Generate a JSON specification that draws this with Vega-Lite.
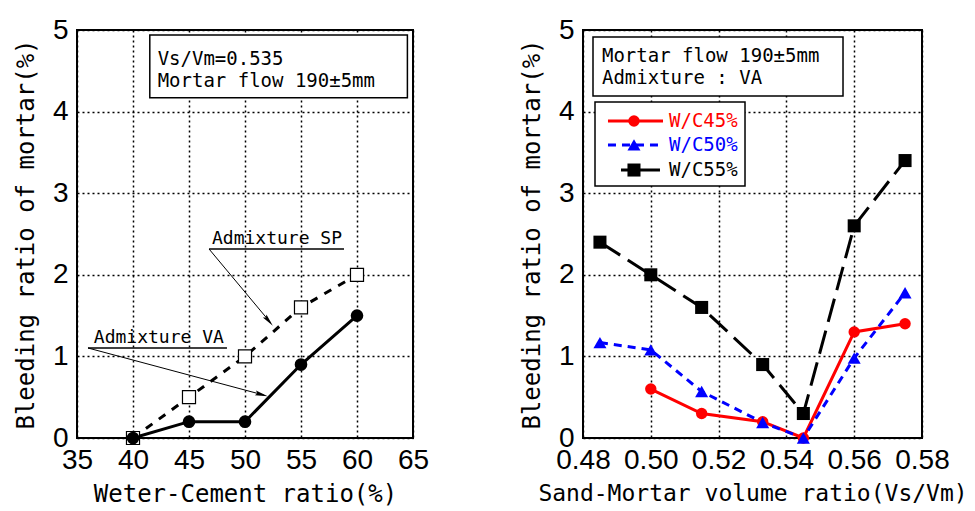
{
  "$schema": "https://vega.github.io/schema/vega-lite/v6.json",
  "background": "white",
  "padding": {"left": 13, "top": 15, "right": 0, "bottom": 0},
  "spacing": 89,
  "config": {
    "view": {"stroke": "black", "strokeWidth": 2},
    "axis": {
      "labelFont": "Liberation Sans", "labelFontSize": 28, "labelColor": "black",
      "titleFont": "DejaVu Sans Mono", "titleFontSize": 24, "titleFontWeight": "normal", "titleColor": "black",
      "ticks": false, "domain": false, "grid": true, "gridColor": "black", "gridDash": [2, 3], "gridWidth": 1.5, "gridOpacity": 1,
      "labelPadding": 9, "titlePadding": 14, "labelOverlap": false, "labelFlush": false, "labelBound": false
    },
    "axisX": {"labelPadding": 8, "titlePadding": 8},
    "axisY": {"format": "d"}
  },
  "datasets": {
    "wc": [
      {"wc": 40, "bleed": 0, "admixture": "SP"},
      {"wc": 45, "bleed": 0.5, "admixture": "SP"},
      {"wc": 50, "bleed": 1.0, "admixture": "SP"},
      {"wc": 55, "bleed": 1.6, "admixture": "SP"},
      {"wc": 60, "bleed": 2.0, "admixture": "SP"},
      {"wc": 40, "bleed": 0, "admixture": "VA"},
      {"wc": 45, "bleed": 0.2, "admixture": "VA"},
      {"wc": 50, "bleed": 0.2, "admixture": "VA"},
      {"wc": 55, "bleed": 0.9, "admixture": "VA"},
      {"wc": 60, "bleed": 1.5, "admixture": "VA"}
    ],
    "vs": [
      {"vsvm": 0.485, "bleed": 2.4, "series": "W/C55%"},
      {"vsvm": 0.500, "bleed": 2.0, "series": "W/C55%"},
      {"vsvm": 0.515, "bleed": 1.6, "series": "W/C55%"},
      {"vsvm": 0.533, "bleed": 0.9, "series": "W/C55%"},
      {"vsvm": 0.545, "bleed": 0.3, "series": "W/C55%"},
      {"vsvm": 0.560, "bleed": 2.6, "series": "W/C55%"},
      {"vsvm": 0.575, "bleed": 3.4, "series": "W/C55%"},
      {"vsvm": 0.500, "bleed": 0.6, "series": "W/C45%"},
      {"vsvm": 0.515, "bleed": 0.3, "series": "W/C45%"},
      {"vsvm": 0.533, "bleed": 0.2, "series": "W/C45%"},
      {"vsvm": 0.545, "bleed": 0.0, "series": "W/C45%"},
      {"vsvm": 0.560, "bleed": 1.3, "series": "W/C45%"},
      {"vsvm": 0.575, "bleed": 1.4, "series": "W/C45%"},
      {"vsvm": 0.485, "bleed": 1.17, "series": "W/C50%"},
      {"vsvm": 0.500, "bleed": 1.08, "series": "W/C50%"},
      {"vsvm": 0.515, "bleed": 0.57, "series": "W/C50%"},
      {"vsvm": 0.533, "bleed": 0.19, "series": "W/C50%"},
      {"vsvm": 0.545, "bleed": 0.0, "series": "W/C50%"},
      {"vsvm": 0.560, "bleed": 0.98, "series": "W/C50%"},
      {"vsvm": 0.575, "bleed": 1.78, "series": "W/C50%"}
    ],
    "one": [{}]
  },
  "hconcat": [
    {
      "width": 336,
      "height": 408,
      "layer": [
        {
          "data": {"name": "wc"},
          "transform": [{"filter": "datum.admixture == 'SP'"}],
          "mark": {"type": "line", "color": "black", "strokeWidth": 3, "strokeDash": [8, 8]},
          "encoding": {
            "x": {"field": "wc", "type": "quantitative", "scale": {"domain": [35, 65], "nice": false, "zero": false},
                  "axis": {"values": [35, 40, 45, 50, 55, 60, 65], "title": "Weter-Cement ratio(%)"}},
            "y": {"field": "bleed", "type": "quantitative", "scale": {"domain": [0, 5], "nice": false},
                  "axis": {"values": [0, 1, 2, 3, 4, 5], "title": "Bleeding ratio of mortar(%)"}}
          }
        },
        {
          "data": {"name": "wc"},
          "transform": [{"filter": "datum.admixture == 'VA'"}],
          "mark": {"type": "line", "color": "black", "strokeWidth": 3},
          "encoding": {"x": {"field": "wc", "type": "quantitative"}, "y": {"field": "bleed", "type": "quantitative"}}
        },
        {
          "data": {"name": "wc"},
          "transform": [{"filter": "datum.admixture == 'SP'"}],
          "mark": {"type": "point", "shape": "square", "size": 170, "filled": true, "fill": "white", "stroke": "black", "strokeWidth": 1.2, "opacity": 1, "clip": false},
          "encoding": {"x": {"field": "wc", "type": "quantitative"}, "y": {"field": "bleed", "type": "quantitative"}}
        },
        {
          "data": {"name": "wc"},
          "transform": [{"filter": "datum.admixture == 'VA'"}],
          "mark": {"type": "point", "shape": "circle", "size": 160, "filled": true, "color": "black", "opacity": 1},
          "encoding": {"x": {"field": "wc", "type": "quantitative"}, "y": {"field": "bleed", "type": "quantitative"}}
        },
        {
          "data": {"name": "one"},
          "mark": {"type": "rect", "fill": "white", "stroke": "black", "strokeWidth": 1.5},
          "encoding": {"x": {"datum": 41.5}, "x2": {"datum": 64.5}, "y": {"datum": 4.94}, "y2": {"datum": 4.17}}
        },
        {
          "data": {"name": "one"},
          "mark": {"type": "text", "font": "DejaVu Sans Mono", "fontSize": 19, "align": "left", "baseline": "middle", "color": "black", "text": "Vs/Vm=0.535"},
          "encoding": {"x": {"datum": 42.2}, "y": {"datum": 4.64}}
        },
        {
          "data": {"name": "one"},
          "mark": {"type": "text", "font": "DejaVu Sans Mono", "fontSize": 19, "align": "left", "baseline": "middle", "color": "black", "text": "Mortar flow 190±5mm"},
          "encoding": {"x": {"datum": 42.2}, "y": {"datum": 4.375}}
        },
        {
          "data": {"name": "one"},
          "mark": {"type": "text", "font": "DejaVu Sans Mono", "fontSize": 18, "align": "left", "baseline": "middle", "color": "black", "text": "Admixture SP"},
          "encoding": {"x": {"datum": 47.05}, "y": {"datum": 2.44}}
        },
        {
          "data": {"name": "one"},
          "mark": {"type": "text", "font": "DejaVu Sans Mono", "fontSize": 18, "align": "left", "baseline": "middle", "color": "black", "text": "Admixture VA"},
          "encoding": {"x": {"datum": 36.5}, "y": {"datum": 1.225}}
        },
        {
          "data": {"name": "one"},
          "mark": {"type": "rule", "color": "black", "strokeWidth": 1.5},
          "encoding": {"x": {"datum": 46.79}, "x2": {"datum": 58.84}, "y": {"datum": 2.316}}
        },
        {
          "data": {"name": "one"},
          "mark": {"type": "rule", "color": "black", "strokeWidth": 1.5},
          "encoding": {"x": {"datum": 35.98}, "x2": {"datum": 48.39}, "y": {"datum": 1.103}}
        },
        {
          "data": {"name": "one"},
          "mark": {"type": "rule", "color": "black", "strokeWidth": 1},
          "encoding": {"x": {"datum": 46.79}, "x2": {"datum": 52.3}, "y": {"datum": 2.316}, "y2": {"datum": 1.41}}
        },
        {
          "data": {"name": "one"},
          "mark": {"type": "rule", "color": "black", "strokeWidth": 1},
          "encoding": {"x": {"datum": 35.98}, "x2": {"datum": 51.7}, "y": {"datum": 1.103}, "y2": {"datum": 0.525}}
        },
        {
          "data": {"name": "one"},
          "mark": {"type": "point", "shape": "M0,-1L0.35,0.9L0,0.6L-0.35,0.9Z", "size": 180, "filled": true, "color": "black", "opacity": 1, "angle": 140},
          "encoding": {"x": {"datum": 52.1}, "y": {"datum": 1.4375}}
        },
        {
          "data": {"name": "one"},
          "mark": {"type": "point", "shape": "M0,-1L0.35,0.9L0,0.6L-0.35,0.9Z", "size": 180, "filled": true, "color": "black", "opacity": 1, "angle": 105},
          "encoding": {"x": {"datum": 51.45}, "y": {"datum": 0.534}}
        }
      ]
    },
    {
      "width": 339,
      "height": 408,
      "layer": [
        {
          "data": {"name": "vs"},
          "transform": [{"filter": "datum.series == 'W/C55%'"}],
          "mark": {"type": "line", "color": "black", "strokeWidth": 3, "strokeDash": [24, 9]},
          "encoding": {
            "x": {"field": "vsvm", "type": "quantitative", "scale": {"domain": [0.48, 0.58], "nice": false, "zero": false},
                  "axis": {"values": [0.48, 0.5, 0.52, 0.54, 0.56, 0.58], "format": ".2f", "title": "Sand-Mortar volume ratio(Vs/Vm)", "titleFontSize": 23}},
            "y": {"field": "bleed", "type": "quantitative", "scale": {"domain": [0, 5], "nice": false},
                  "axis": {"values": [0, 1, 2, 3, 4, 5], "title": "Bleeding ratio of mortar(%)"}}
          }
        },
        {
          "data": {"name": "vs"},
          "transform": [{"filter": "datum.series == 'W/C45%'"}],
          "mark": {"type": "line", "color": "#ff0000", "strokeWidth": 3},
          "encoding": {"x": {"field": "vsvm", "type": "quantitative"}, "y": {"field": "bleed", "type": "quantitative"}}
        },
        {
          "data": {"name": "vs"},
          "transform": [{"filter": "datum.series == 'W/C50%'"}],
          "mark": {"type": "line", "color": "#0000ff", "strokeWidth": 3, "strokeDash": [8, 6]},
          "encoding": {"x": {"field": "vsvm", "type": "quantitative"}, "y": {"field": "bleed", "type": "quantitative"}}
        },
        {
          "data": {"name": "vs"},
          "transform": [{"filter": "datum.series == 'W/C55%'"}],
          "mark": {"type": "point", "shape": "square", "size": 170, "filled": true, "color": "black", "opacity": 1},
          "encoding": {"x": {"field": "vsvm", "type": "quantitative"}, "y": {"field": "bleed", "type": "quantitative"}}
        },
        {
          "data": {"name": "vs"},
          "transform": [{"filter": "datum.series == 'W/C45%'"}],
          "mark": {"type": "point", "shape": "circle", "size": 130, "filled": true, "color": "#ff0000", "opacity": 1},
          "encoding": {"x": {"field": "vsvm", "type": "quantitative"}, "y": {"field": "bleed", "type": "quantitative"}}
        },
        {
          "data": {"name": "vs"},
          "transform": [{"filter": "datum.series == 'W/C50%'"}],
          "mark": {"type": "point", "shape": "triangle-up", "size": 170, "filled": true, "color": "#0000ff", "opacity": 1},
          "encoding": {"x": {"field": "vsvm", "type": "quantitative"}, "y": {"field": "bleed", "type": "quantitative"}}
        },
        {
          "data": {"name": "one"},
          "mark": {"type": "rect", "fill": "white", "stroke": "black", "strokeWidth": 1.5},
          "encoding": {"x": {"datum": 0.48295}, "x2": {"datum": 0.5567}, "y": {"datum": 4.914}, "y2": {"datum": 4.191}}
        },
        {
          "data": {"name": "one"},
          "mark": {"type": "text", "font": "DejaVu Sans Mono", "fontSize": 19, "align": "left", "baseline": "middle", "color": "black", "text": "Mortar flow 190±5mm"},
          "encoding": {"x": {"datum": 0.4856}, "y": {"datum": 4.68}}
        },
        {
          "data": {"name": "one"},
          "mark": {"type": "text", "font": "DejaVu Sans Mono", "fontSize": 19, "align": "left", "baseline": "middle", "color": "black", "text": "Admixture : VA"},
          "encoding": {"x": {"datum": 0.4856}, "y": {"datum": 4.41}}
        },
        {
          "data": {"name": "one"},
          "mark": {"type": "rect", "fill": "white", "stroke": "black", "strokeWidth": 1.5},
          "encoding": {"x": {"datum": 0.48354}, "x2": {"datum": 0.52779}, "y": {"datum": 4.118}, "y2": {"datum": 3.088}}
        },
        {
          "data": {"name": "one"},
          "mark": {"type": "rule", "color": "#ff0000", "strokeWidth": 3},
          "encoding": {"x": {"datum": 0.48737}, "x2": {"datum": 0.5036}, "y": {"datum": 3.885}}
        },
        {
          "data": {"name": "one"},
          "mark": {"type": "rule", "color": "#0000ff", "strokeWidth": 3, "strokeDash": [8, 6]},
          "encoding": {"x": {"datum": 0.48737}, "x2": {"datum": 0.5036}, "y": {"datum": 3.591}}
        },
        {
          "data": {"name": "one"},
          "mark": {"type": "rule", "color": "black", "strokeWidth": 3},
          "encoding": {"x": {"datum": 0.49121}, "x2": {"datum": 0.50271}, "y": {"datum": 3.284}}
        },
        {
          "data": {"name": "one"},
          "mark": {"type": "point", "shape": "circle", "size": 130, "filled": true, "color": "#ff0000", "opacity": 1},
          "encoding": {"x": {"datum": 0.49504}, "y": {"datum": 3.885}}
        },
        {
          "data": {"name": "one"},
          "mark": {"type": "point", "shape": "triangle-up", "size": 170, "filled": true, "color": "#0000ff", "opacity": 1},
          "encoding": {"x": {"datum": 0.49504}, "y": {"datum": 3.591}}
        },
        {
          "data": {"name": "one"},
          "mark": {"type": "point", "shape": "square", "size": 170, "filled": true, "color": "black", "opacity": 1},
          "encoding": {"x": {"datum": 0.49504}, "y": {"datum": 3.284}}
        },
        {
          "data": {"name": "one"},
          "mark": {"type": "text", "font": "DejaVu Sans Mono", "fontSize": 19, "align": "left", "baseline": "middle", "color": "#ff0000", "text": "W/C45%"},
          "encoding": {"x": {"datum": 0.50537}, "y": {"datum": 3.885}}
        },
        {
          "data": {"name": "one"},
          "mark": {"type": "text", "font": "DejaVu Sans Mono", "fontSize": 19, "align": "left", "baseline": "middle", "color": "#0000ff", "text": "W/C50%"},
          "encoding": {"x": {"datum": 0.50537}, "y": {"datum": 3.591}}
        },
        {
          "data": {"name": "one"},
          "mark": {"type": "text", "font": "DejaVu Sans Mono", "fontSize": 19, "align": "left", "baseline": "middle", "color": "black", "text": "W/C55%"},
          "encoding": {"x": {"datum": 0.50537}, "y": {"datum": 3.284}}
        }
      ]
    }
  ]
}
